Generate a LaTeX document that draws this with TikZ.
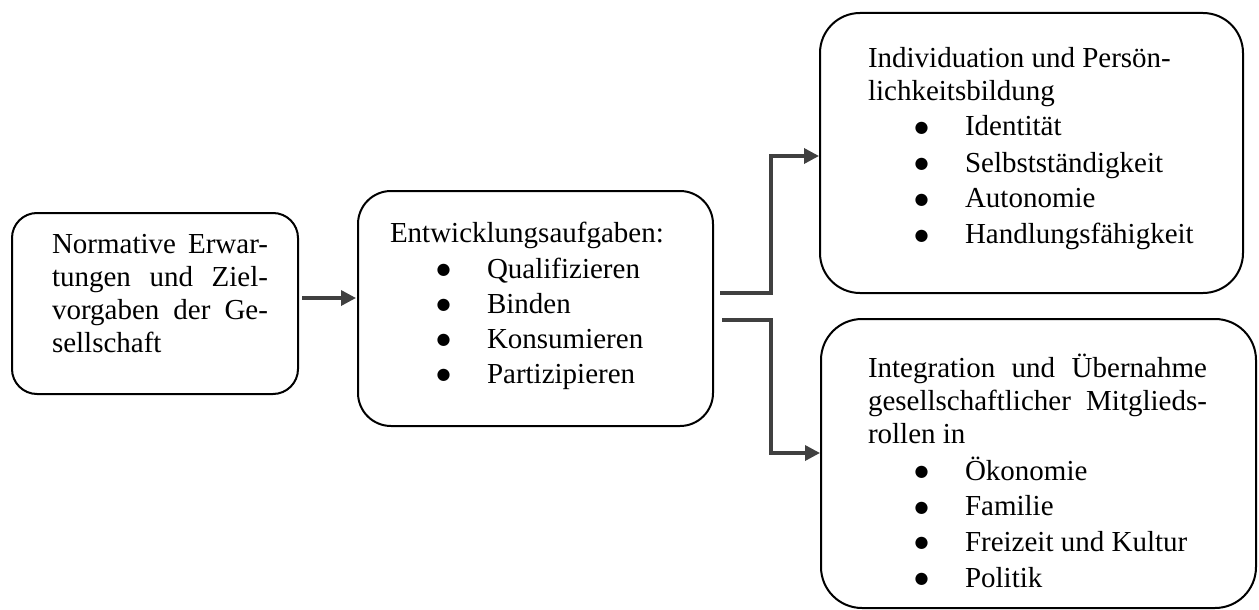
\documentclass[tikz,border=0pt]{standalone}
\usepackage{fontspec}
\setmainfont{Liberation Serif}
\newfontfamily\bulfont{DejaVu Sans}
\usetikzlibrary{arrows.meta}
\newcommand{\bul}[1]{\hspace*{46.5pt}\makebox[50.5pt][l]{\raisebox{3.5pt}{\bulfont\fontsize{16}{16}\selectfont ●}}#1}
\begin{document}
\begin{tikzpicture}[x=1pt,y=-1pt,
  box/.style={draw=black,line width=2pt,fill=white,rectangle,inner sep=0pt},
  txt/.style={inner sep=0pt,outer sep=0pt,anchor=base west,font=\fontsize{29}{33}\selectfont},
  conn/.style={draw=black!75,line width=3.4pt,line join=miter,-{Triangle[length=15pt,width=15pt]}}]
\useasboundingbox (0,0) rectangle (1259,610);
% boxes
\node[box,rounded corners=25pt,minimum width=286pt,minimum height=181pt,anchor=north west] (lb) at (11,212) {};
\node[box,rounded corners=33pt,minimum width=355pt,minimum height=235pt,anchor=north west] (mid) at (357,190) {};
\node[box,rounded corners=40pt,minimum width=423pt,minimum height=280pt,anchor=north west] (tr) at (819,12) {};
\node[box,rounded corners=41pt,minimum width=435pt,minimum height=289pt,anchor=north west] (br) at (820,318) {};
% texts
\node[txt] (lt) at (52,253) {\parbox[t]{216pt}{Normative Erwar-\linebreak tungen und Ziel-\linebreak vorgaben der Ge-\linebreak sellschaft}};
\node[txt] (mt) at (390,242) {\parbox[t]{320pt}{Entwicklungsaufgaben:\\[3pt]
\bul{Qualifizieren}\\[2pt]
\bul{Binden}\\[2pt]
\bul{Konsumieren}\\[2pt]
\bul{Partizipieren}}};
\node[txt] (trt) at (868,67) {\parbox[t]{339pt}{Individuation und Persön-\\
lichkeitsbildung\\[3pt]
\bul{Identität}\\[3pt]
\bul{Selbstständigkeit}\\[3pt]
\bul{Autonomie}\\[3pt]
\bul{Handlungsfähigkeit}}};
\node[txt] (brt) at (868,377) {\parbox[t]{339pt}{Integration und Übernahme\linebreak gesellschaftlicher Mitglieds-\linebreak rollen in\\[4pt]
\bul{Ökonomie}\\[2.7pt]
\bul{Familie}\\[2.7pt]
\bul{Freizeit und Kultur}\\[2.7pt]
\bul{Politik}}};
% connectors
\coordinate (a1) at ([xshift=3pt,yshift=5.5pt]lb.east);
\draw[conn] (a1) -- ([xshift=-1pt]a1 -| mid.west);
\draw[conn] ([xshift=6pt,yshift=15.5pt]mid.east) -- ++(51,0) |- ([yshift=-3pt]tr.west);
\draw[conn] ([xshift=8pt,yshift=-11.5pt]mid.east) -- ++(49,0) |- ([yshift=10.5pt]br.west);
\end{tikzpicture}
\end{document}
